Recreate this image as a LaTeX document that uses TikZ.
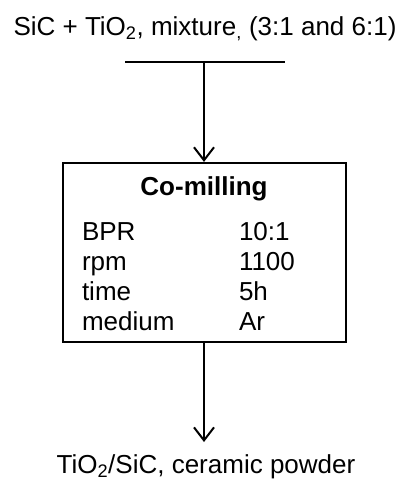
\documentclass[tikz,border=0pt]{standalone}
\usepackage{fontspec}
\setmainfont{Liberation Sans}
\usetikzlibrary{arrows.meta}
\tikzset{
  txt/.style={inner sep=0pt, outer sep=0pt, font=\fontsize{26}{30}\selectfont},
  ln/.style={line width=2.2pt},
  arr/.style={ln, -{Straight Barb[length=13pt,width=20pt,line width=2pt]}},
}
\begin{document}
\begin{tikzpicture}[x=1pt,y=1pt]
\useasboundingbox (0,0) rectangle (404,-485);
% source text
\node[txt, anchor=base] (src) at (205,-35) {SiC + TiO\textsubscript{2}, mixture\textsubscript{,} (3:1 and 6:1)};
% horizontal bar
\coordinate (hl) at (125,-62);
\coordinate (hr) at (285,-62);
\coordinate (j) at (204,-62);
\draw[ln] (hl) -- (hr);
% box
\node[ln, draw, minimum width=283pt, minimum height=179pt, inner sep=0pt] (box) at (204.5,-252.5) {};
\node[txt, anchor=base, font=\fontsize{26}{30}\selectfont\bfseries] (title) at (204,-195) {Co-milling};
\node[txt, anchor=base west] (k1) at (82,-240) {BPR};
\node[txt, anchor=base west] (k2) at (82,-270) {rpm};
\node[txt, anchor=base west] (k3) at (82,-300) {time};
\node[txt, anchor=base west] (k4) at (82,-330) {medium};
\node[txt, anchor=base west] (v1) at (239,-240) {10:1};
\node[txt, anchor=base west] (v2) at (239,-270) {1100};
\node[txt, anchor=base west] (v3) at (239,-300) {5h};
\node[txt, anchor=base west] (v4) at (239,-330) {Ar};
\draw[arr] (j) -- (box.north -| j);
% output
\coordinate (tip) at (204,-442);
\draw[arr] (box.south -| tip) -- (tip);
\node[txt, anchor=base] (out) at (206,-473) {TiO\textsubscript{2}/SiC, ceramic powder};
\end{tikzpicture}
\end{document}
